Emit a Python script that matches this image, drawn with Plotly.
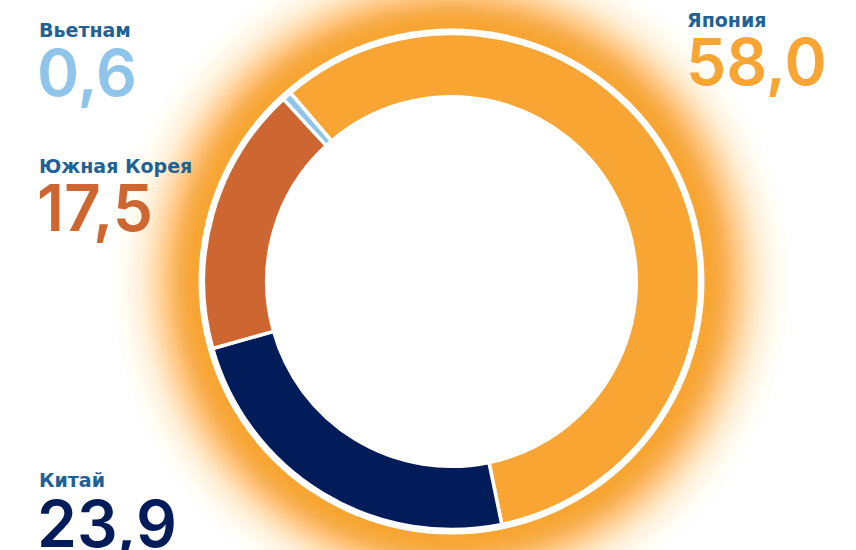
import math
import plotly.graph_objects as go

# ---- data ----
countries = ["Япония", "Китай", "Южная Корея", "Вьетнам"]
shares = [58.0, 23.9, 17.5, 0.6]
value_labels = ["58,0", "23,9", "17,5", "0,6"]
colors = ["#F8A533", "#021C5A", "#CE6631", "#8FC5EB"]

W, H = 856, 550
CX, CY = 451.5, 281.5
R_PIE = 248.0
GLOW = "248,165,51"

fig = go.Figure()

fig.add_trace(go.Pie(
    labels=countries, values=shares, sort=False, direction="clockwise",
    rotation=-40.5, hole=0.745, textinfo="none", hoverinfo="label+value",
    marker=dict(colors=colors, line=dict(color="white", width=3.5)),
    domain=dict(x=[(CX - R_PIE) / W, (CX + R_PIE) / W],
                y=[1 - (CY + R_PIE) / H, 1 - (CY - R_PIE) / H]),
    showlegend=False,
))

# ---- glow: stacked translucent circles approximating a radial fade ----
shapes = []
r_in, r_out, n = 253.0, 340.0, 60
radii = [r_in + (r_out - r_in) * i / (n - 1) for i in range(n)]
target = [math.exp(-((r - r_in) / 44.0) ** 2) for r in radii]
target[-1] = 0.0
prev = 0.0
alphas = []
for i in range(n - 1, -1, -1):
    A = min(target[i], 0.999)
    a = 1 - (1 - A) / (1 - prev) if prev < 1 else 0
    alphas.append((radii[i], max(a, 0)))
    prev = A
for r, a in alphas:
    if a <= 0:
        continue
    shapes.append(dict(type="circle", xref="x", yref="y", layer="below",
                       x0=CX - r, x1=CX + r, y0=CY - r, y1=CY + r,
                       fillcolor=f"rgba({GLOW},{a:.4f})", line=dict(width=0)))
shapes.append(dict(type="circle", xref="x", yref="y", layer="below",
                   x0=CX - 253, x1=CX + 253, y0=CY - 253, y1=CY + 253,
                   fillcolor="white", line=dict(width=0)))

LABEL_FONT = "DejaVu Sans"
NUM_FONT = "Inter"
LABEL_BLUE = "#1E6296"
ann = []
def add(text, x, y, size, color, weight, family):
    ann.append(dict(text=text, x=x, y=y, xref="x", yref="y", xanchor="left",
                    yanchor="middle", showarrow=False,
                    font=dict(family=family, size=size, color=color, weight=weight)))

# Вьетнам
add(countries[3], 37, 29.5, 19, LABEL_BLUE, 700, LABEL_FONT)
add(value_labels[3], 35, 72, 64, colors[3], 600, NUM_FONT)
# Южная Корея
add(countries[2], 37, 165.5, 19, LABEL_BLUE, 700, LABEL_FONT)
add(value_labels[2], 35, 207, 64, colors[2], 600, NUM_FONT)
# Китай
add(countries[1], 37, 479.5, 19, LABEL_BLUE, 700, LABEL_FONT)
add(value_labels[1], 35, 523, 64, colors[1], 600, NUM_FONT)
# Япония
add(countries[0], 685, 19.5, 19, LABEL_BLUE, 700, LABEL_FONT)
add(value_labels[0], 684, 61, 64, colors[0], 600, NUM_FONT)

fig.update_layout(
    width=W, height=H, margin=dict(l=0, r=0, t=0, b=0),
    paper_bgcolor="white", plot_bgcolor="rgba(0,0,0,0)",
    xaxis=dict(range=[0, W], visible=False, fixedrange=True),
    yaxis=dict(range=[H, 0], visible=False, fixedrange=True),
    shapes=shapes, annotations=ann,
)
fig.write_html(
    "out.html",
    config={"displayModeBar": False},
    post_script="document.body.style.margin='0';document.body.style.overflow='hidden';",
)
